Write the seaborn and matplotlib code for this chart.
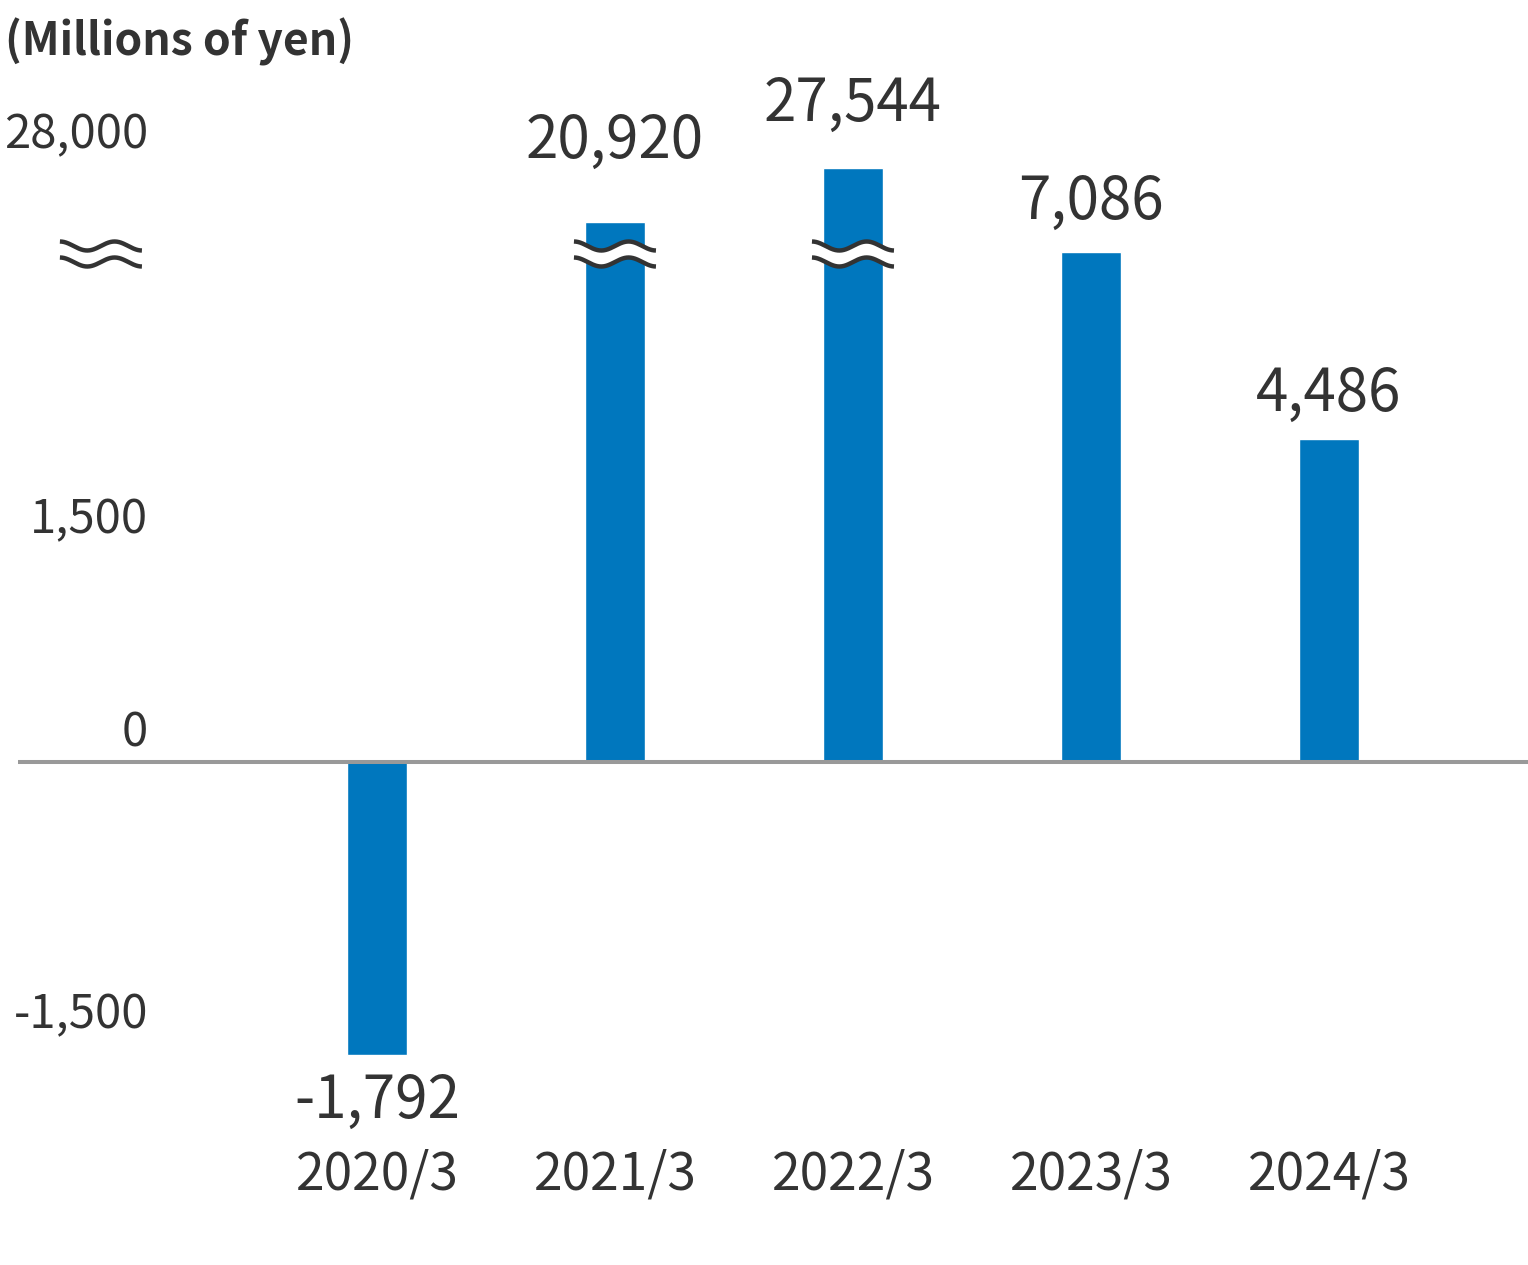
import numpy as np
import pandas as pd
import matplotlib
matplotlib.use("Agg")
import matplotlib.pyplot as plt
import matplotlib.transforms as mtransforms
import seaborn as sns

# ---------------- data ----------------
PERIODS = ["2020/3", "2021/3", "2022/3", "2023/3", "2024/3"]
VALUES = [-1792, 20920, 27544, 7086, 4486]
VALUE_LABELS = ["-1,792", "20,920", "27,544", "7,086", "4,486"]
YTICKS = [-1500, 0, 1500, 28000]
YTICK_LABELS = ["-1,500", "0", "1,500", "28,000"]
UNIT_LABEL = "(Millions of yen)"

# ---------------- style ----------------
BAR_COLOR = "#0077BE"
TEXT_COLOR = "#333333"
AXIS_COLOR = "#999999"
FONT = ["Noto Sans CJK JP", "DejaVu Sans"]

# schematic (non-proportional) value axis of the original chart:
# value knots -> relative display position
SCALE_VALUES = [-2400, -2000, -1500, 0, 1500, 4500, 7000, 21000, 28000, 29500]
SCALE_DISPLAY = [-368, -300, -282, 0, 213, 324, 510, 540, 598, 682]

# label padding (pixels) between bar end and its value label
LABEL_PAD = [16, 50, 33, 19, 14]


def fwd(v):
    return np.interp(v, SCALE_VALUES, SCALE_DISPLAY)


def inv(d):
    return np.interp(d, SCALE_DISPLAY, SCALE_VALUES)


sns.set_theme(style="white")
plt.rcParams["font.family"] = FONT

W, H = 1528, 1265
fig = plt.figure(figsize=(W / 100, H / 100), dpi=100)
ax_left, ax_top, ax_bottom = 18, 80, 1130
ax = fig.add_axes([ax_left / W, 1 - ax_bottom / H, 1 - ax_left / W, (ax_bottom - ax_top) / H])

df = pd.DataFrame({"period": PERIODS, "value": VALUES})
sns.barplot(data=df, x="period", y="value", color=BAR_COLOR, saturation=1,
            width=0.252, ax=ax, zorder=2)

ax.set_yscale("function", functions=(fwd, inv))
ax.set_ylim(SCALE_VALUES[0], SCALE_VALUES[-1])
ax.set_xlim(-1.508, 4.836)

for s in ax.spines.values():
    s.set_visible(False)
ax.grid(False)
ax.set_xlabel("")
ax.set_ylabel("")

ax.axhline(0, color=AXIS_COLOR, lw=2.9, zorder=3)

# y ticks
ax.set_yticks(YTICKS)
ax.set_yticklabels(YTICK_LABELS)
ax.yaxis.set_minor_locator(matplotlib.ticker.NullLocator())
ax.tick_params(axis="y", length=0, pad=0, labelsize=34, labelcolor=TEXT_COLOR)
offset = mtransforms.ScaledTranslation(130 / 100, 29 / 100, fig.dpi_scale_trans)
for lbl in ax.get_yticklabels():
    lbl.set_transform(lbl.get_transform() + offset)
    lbl.set_fontfamily(FONT)
    lbl.set_va("center")

# x ticks
ax.set_xticks(range(len(PERIODS)))
ax.set_xticklabels(PERIODS)
ax.tick_params(axis="x", length=0, pad=13, labelsize=37, labelcolor=TEXT_COLOR)
for lbl in ax.get_xticklabels():
    lbl.set_fontfamily(FONT)

# value labels
for i, (v, t) in enumerate(zip(VALUES, VALUE_LABELS)):
    if v >= 0:
        ax.annotate(t, xy=(i, v), xytext=(0, LABEL_PAD[i]), textcoords="offset pixels",
                    ha="center", va="bottom", fontsize=42, color=TEXT_COLOR,
                    family=FONT, zorder=5)
    else:
        ax.annotate(t, xy=(i, v), xytext=(0, -LABEL_PAD[i]), textcoords="offset pixels",
                    ha="center", va="top", fontsize=42, color=TEXT_COLOR,
                    family=FONT, zorder=5)

# break marks (wavy double lines)
axes_h = ax_bottom - ax_top
break_y = (ax_bottom - 254) / axes_h
amp = 4.5 / axes_h
gap = 8 / axes_h
half_w = 41 / 238
trans = mtransforms.blended_transform_factory(ax.transData, ax.transAxes)
BREAK_X = [(101 - 377) / 238, 1, 2]
t = np.linspace(0, 1, 200)
for bx in BREAK_X:
    xs = bx - half_w + 2 * half_w * t
    wave = amp * np.cos(3 * np.pi * t)
    y1 = break_y + gap + wave
    y2 = break_y - gap + wave
    ax.fill_between(xs, y2, y1, color="white", transform=trans, zorder=6, lw=0)
    ax.plot(xs, y1, color=TEXT_COLOR, lw=3.2, transform=trans, zorder=7,
            solid_capstyle="butt", clip_on=False)
    ax.plot(xs, y2, color=TEXT_COLOR, lw=3.2, transform=trans, zorder=7,
            solid_capstyle="butt", clip_on=False)

fig.text(5 / W, 1 - 42 / H, UNIT_LABEL, fontsize=32, fontweight="bold",
         color=TEXT_COLOR, ha="left", va="center", family=FONT)

fig.savefig("out.png", dpi=100, facecolor="white")
